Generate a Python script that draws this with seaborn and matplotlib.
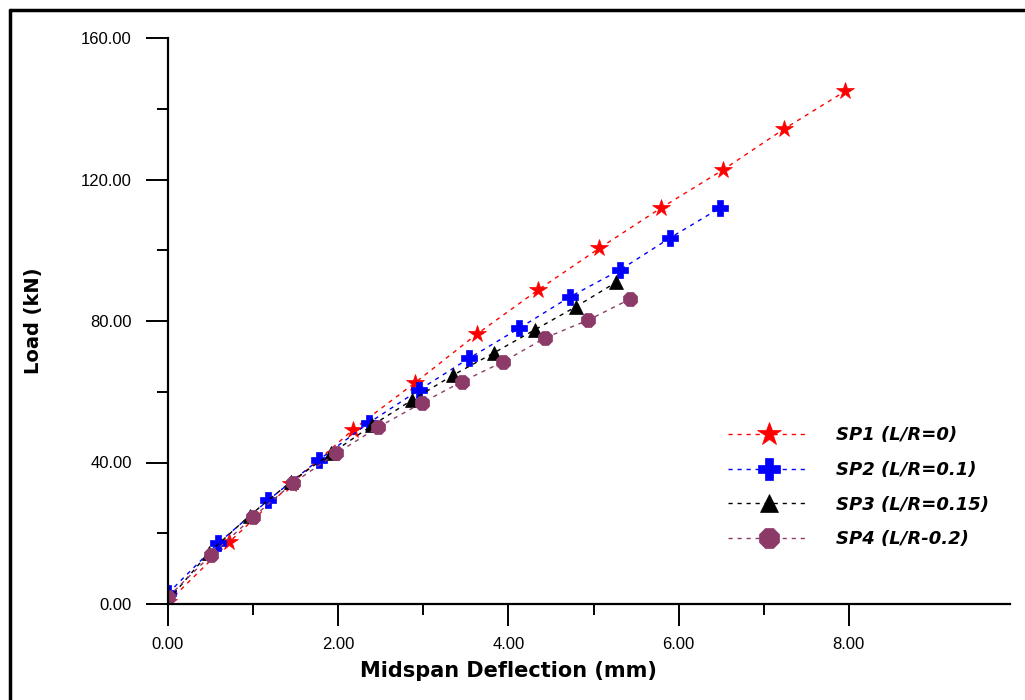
import matplotlib
matplotlib.use("Agg")
import matplotlib.pyplot as plt
import matplotlib.ticker as mticker
from matplotlib.lines import Line2D
import seaborn as sns
import pandas as pd

# ---- data ----
sp1_x = [0.0, 0.72, 1.45, 2.17, 2.90, 3.63, 4.35, 5.07, 5.79, 6.52, 7.24, 7.96]
sp1_y = [0.5, 17.5, 34.0, 49.2, 62.5, 76.3, 88.8, 100.6, 111.9, 122.7, 134.3, 145.0]
sp2_x = [0.0, 0.59, 1.18, 1.77, 2.36, 2.95, 3.54, 4.13, 4.72, 5.31, 5.90, 6.49]
sp2_y = [3.0, 17.2, 29.4, 40.7, 51.2, 60.5, 69.5, 78.0, 86.8, 94.4, 103.5, 112.0]
sp3_x = [0.0, 0.48, 0.96, 1.44, 1.92, 2.40, 2.87, 3.35, 3.83, 4.31, 4.79, 5.27]
sp3_y = [1.0, 14.5, 25.0, 34.5, 42.6, 50.5, 57.7, 64.7, 71.0, 77.5, 84.0, 91.0]
sp4_x = [0.0, 0.51, 1.00, 1.47, 1.98, 2.47, 2.98, 3.45, 3.94, 4.43, 4.94, 5.43]
sp4_y = [2.0, 13.9, 24.6, 34.2, 42.6, 50.0, 56.8, 62.8, 68.5, 75.2, 80.3, 86.2]
labels = ["SP1 (L/R=0)", "SP2 (L/R=0.1)", "SP3 (L/R=0.15)", "SP4 (L/R-0.2)"]
x_ticks = [0, 2, 4, 6, 8]
y_ticks = [0, 40, 80, 120, 160]

colors = ["#ff0000", "#0000ff", "#000000", "#8c3a68"]
markers = ["*", "P", "^", "8"]
msizes = [13, 12, 9.5, 11.5]

sns.set_style("white")
plt.rcParams["font.family"] = ["Liberation Sans", "DejaVu Sans"]
plt.rcParams["text.color"] = "black"
plt.rcParams["axes.labelcolor"] = "black"

fig = plt.figure(figsize=(10.25, 7.0), dpi=100)
fig.patch.set_facecolor("white")
ax = fig.add_axes([168/1025, 1-604/700, (1010-168)/1025, (604-38)/700])

series = [(sp1_x, sp1_y), (sp2_x, sp2_y), (sp3_x, sp3_y), (sp4_x, sp4_y)]
for (xs, ys), lab, c, m, ms in zip(series, labels, colors, markers, msizes):
    df = pd.DataFrame({"x": xs, "y": ys})
    sns.lineplot(data=df, x="x", y="y", ax=ax, color=c, marker=m, markersize=ms,
                 markeredgecolor=c, markeredgewidth=0.5, linewidth=1.0,
                 linestyle=(0, (3, 3.5)), sort=False, estimator=None, label=lab)

ax.set_xlim(0, (1010-168)/85.1)
ax.set_ylim(0, 160)
ax.xaxis.set_major_locator(mticker.FixedLocator(x_ticks))
ax.xaxis.set_minor_locator(mticker.FixedLocator([1, 3, 5, 7]))
ax.yaxis.set_major_locator(mticker.FixedLocator(y_ticks))
ax.yaxis.set_minor_locator(mticker.FixedLocator([20, 60, 100, 140]))
ax.xaxis.set_major_formatter(mticker.FormatStrFormatter("%.2f"))
ax.yaxis.set_major_formatter(mticker.FormatStrFormatter("%.2f"))

for s in ["top", "right"]:
    ax.spines[s].set_visible(False)
for s in ["left", "bottom"]:
    ax.spines[s].set_linewidth(1.6)
    ax.spines[s].set_color("black")

ax.tick_params(axis="both", which="major", direction="out", length=16, width=1.4,
               labelsize=12, colors="black")
ax.tick_params(axis="both", which="minor", direction="out", length=8, width=1.4,
               colors="black")
ax.tick_params(axis="y", which="major", pad=10)
ax.tick_params(axis="x", which="major", pad=8)
ax.xaxis.set_ticks_position("bottom")
ax.yaxis.set_ticks_position("left")

ax.set_xlabel("Midspan Deflection (mm)", fontsize=15, fontweight="bold",
              family="DejaVu Sans", color="black")
ax.set_ylabel("Load (kN)", fontsize=14, fontweight="bold", family="DejaVu Sans",
              color="black")
ax.xaxis.set_label_coords((508-168)/842, -0.1)
ax.yaxis.set_label_coords(-0.148, 0.5)

leg = ax.legend(loc="upper left", bbox_to_anchor=(719/1025, 1-417/700),
                bbox_transform=fig.transFigure, frameon=False, borderpad=0,
                handlelength=4.5, handletextpad=1.5, labelspacing=0.93,
                prop={"size": 13, "weight": "bold", "style": "italic",
                      "family": "DejaVu Sans"},
                markerscale=1.35, labelcolor="black")

# outer frame (top and left visible)
fig.add_artist(Line2D([9.5/1025, 9.5/1025], [0, 1-9.5/700], color="black", lw=2.5,
                      transform=fig.transFigure))
fig.add_artist(Line2D([9.5/1025, 1], [1-9.5/700, 1-9.5/700], color="black", lw=2.5,
                      transform=fig.transFigure))

fig.savefig("out.png", dpi=100, facecolor="white")
